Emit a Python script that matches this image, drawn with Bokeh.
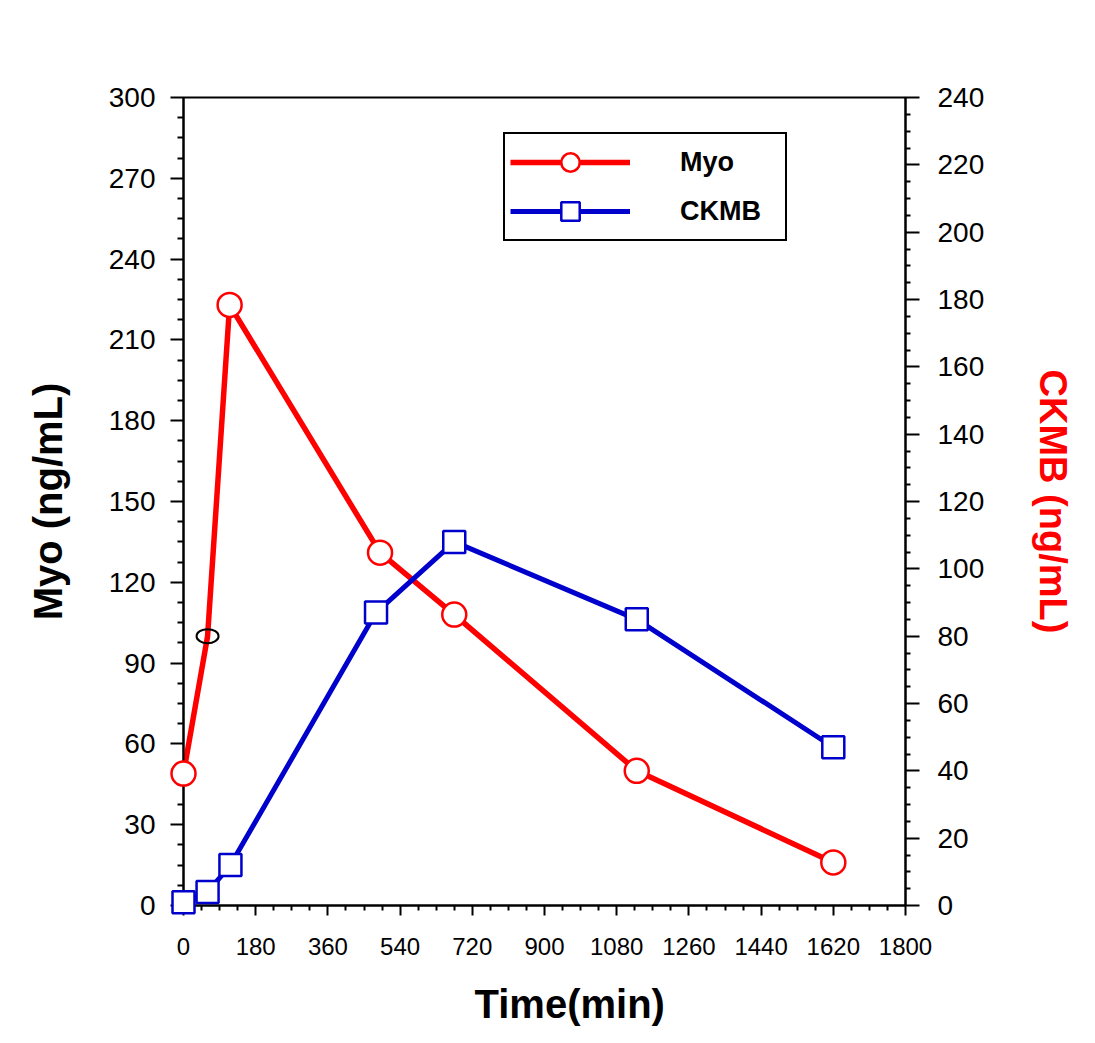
from bokeh.plotting import figure
from bokeh.models import Range1d, LinearAxis, Legend, LegendItem, FixedTicker, Title
from bokeh.embed import file_html
from bokeh.resources import INLINE

# ---- data ----
time_myo = [0, 60, 115, 490, 675, 1130, 1620]
myo = [49, 100, 223, 131, 108, 50, 16]
time_ckmb = [0, 60, 117, 480, 675, 1130, 1620]
ckmb = [1, 4, 12, 87, 108, 85, 47]
odd_point = 1  # the Myo point drawn with a small black ellipse

x_ticks = [0, 180, 360, 540, 720, 900, 1080, 1260, 1440, 1620, 1800]
myo_ticks = [0, 30, 60, 90, 120, 150, 180, 210, 240, 270, 300]
ckmb_ticks = [0, 20, 40, 60, 80, 100, 120, 140, 160, 180, 200, 220, 240]


def minors(ticks, n=4):
    out = []
    for a, b in zip(ticks[:-1], ticks[1:]):
        step = (b - a) / n
        out += [a + k * step for k in range(1, n)]
    return out


RED = "#ff0000"
BLUE = "#0000cc"
FONT = "Liberation Sans"

p = figure(width=1079, height=1027, output_backend="svg", toolbar_location=None,
           x_range=Range1d(x_ticks[0], x_ticks[-1]),
           y_range=Range1d(myo_ticks[0], myo_ticks[-1]),
           min_border_left=183, min_border_right=174,
           min_border_top=97, min_border_bottom=121)
p.extra_y_ranges = {"ckmb": Range1d(ckmb_ticks[0], ckmb_ticks[-1])}

p.xgrid.visible = False
p.ygrid.visible = False
p.outline_line_color = "black"
p.outline_line_width = 2
p.outline_line_alpha = 1
p.background_fill_color = "white"
p.border_fill_color = "white"

# bottom axis
xa = p.xaxis[0]
xa.ticker = FixedTicker(ticks=x_ticks, minor_ticks=minors(x_ticks))

# left axis
ya = p.yaxis[0]
ya.ticker = FixedTicker(ticks=myo_ticks, minor_ticks=minors(myo_ticks))
ya.axis_label = "Myo (ng/mL)"

# right axis
ra = LinearAxis(y_range_name="ckmb", axis_label="CKMB (ng/mL)",
                ticker=FixedTicker(ticks=ckmb_ticks, minor_ticks=minors(ckmb_ticks)))
p.add_layout(ra, "right")

for ax in (xa, ya, ra):
    ax.axis_line_width = 2
    ax.axis_line_color = "black"
    ax.major_tick_line_width = 2
    ax.minor_tick_line_width = 2
    ax.major_tick_in = 0
    ax.minor_tick_in = 0
    ax.major_label_text_font = FONT
    ax.major_label_text_color = "black"
    ax.axis_label_text_font = FONT
    ax.axis_label_text_font_style = "bold"
    ax.axis_label_text_font_size = "40px"

xa.major_tick_out = 10
xa.minor_tick_out = 5
xa.major_label_text_font_size = "24px"
xa.major_label_standoff = 22

ya.major_tick_out = 13
ya.minor_tick_out = 6
ya.major_label_text_font_size = "28px"
ya.major_label_standoff = 15
ya.axis_label_standoff = 36
ya.axis_label_text_color = "black"

ra.major_tick_out = 14
ra.minor_tick_out = 5
ra.major_label_text_font_size = "28px"
ra.major_label_standoff = 18
ra.axis_label_standoff = 45
ra.axis_label_text_color = RED
ra.axis_label_text_font_size = "38px"

# x axis title, below the axis, offset right like the original
xtitle = Title(text="Time(min)", align="left", offset=291, standoff=20,
               vertical_align="top",
               text_font=FONT, text_font_style="bold", text_font_size="40px",
               text_color="black")
try:
    xtitle.padding = dict(left=0, right=0, top=24, bottom=0)
    xtitle.standoff = 0
except Exception:
    pass
p.add_layout(xtitle, "below")

# lines
l_myo = p.line(time_myo, myo, line_color=RED, line_width=5.5)
l_ck = p.line(time_ckmb, ckmb, y_range_name="ckmb", line_color=BLUE, line_width=5)

# markers
idx = [i for i in range(len(time_myo)) if i != odd_point]
m_myo = p.scatter([time_myo[i] for i in idx], [myo[i] for i in idx], marker="circle",
                  size=24, fill_color="white", line_color=RED, line_width=2.5,
                  level="overlay")
p.ellipse(x=[time_myo[odd_point]], y=[myo[odd_point]], width=22, height=14,
          width_units="screen", height_units="screen", fill_color=None,
          line_color="black", line_width=2, level="overlay")
m_ck = p.scatter(time_ckmb, ckmb, y_range_name="ckmb", marker="square", size=22,
                 fill_color="white", line_color=BLUE, line_width=2.5, level="overlay")

legend = Legend(items=[LegendItem(label="Myo", renderers=[l_myo, m_myo]),
                       LegendItem(label="CKMB", renderers=[l_ck, m_ck])],
                location=(320, 664), margin=0, padding=5, spacing=3,
                glyph_width=120, glyph_height=46, label_standoff=50, label_width=100,
                border_line_color="black", border_line_width=2, border_line_alpha=1,
                background_fill_color="white", background_fill_alpha=1,
                label_text_font=FONT, label_text_font_style="bold",
                label_text_font_size="27px", label_text_color="black")
p.add_layout(legend)

open("out.html", "w").write(file_html(p, INLINE))
